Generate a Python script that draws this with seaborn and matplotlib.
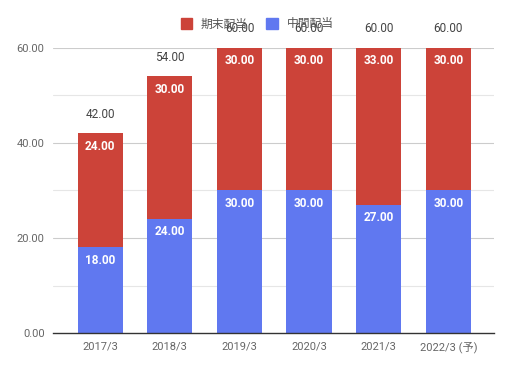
import seaborn as sns
import pandas as pd
import matplotlib.pyplot as plt
from matplotlib.patches import Patch

# data
years = ["2017/3", "2018/3", "2019/3", "2020/3", "2021/3", "2022/3 (予)"]
interim = [18, 24, 30, 30, 27, 30]   # 中間配当
final = [24, 30, 30, 30, 33, 30]     # 期末配当
totals = [42, 54, 60, 60, 60, 60]

red = "#CC4339"
blue = "#6078F0"

sns.set_theme(style="white")
plt.rcParams['font.family'] = ['Roboto', 'Noto Sans CJK JP', 'DejaVu Sans']

df = pd.DataFrame({"year": years, "interim": interim, "final": final, "total": totals})

fig = plt.figure(figsize=(5.09, 3.68), dpi=100)
ax = fig.add_axes([0.104, 0.095, 0.867, 0.775])

# grid
for v in range(10, 61, 10):
    ax.axhline(v, color="#cccccc" if v % 20 == 0 else "#e6e6e6", lw=0.8, zorder=0)

# stacked: total (red) then interim (blue) on top
sns.barplot(data=df, x="year", y="total", color=red, width=0.65, saturation=1,
            linewidth=0, ax=ax, zorder=2)
sns.barplot(data=df, x="year", y="interim", color=blue, width=0.65, saturation=1,
            linewidth=0, ax=ax, zorder=3)

# labels
for i in range(len(years)):
    ax.text(i, interim[i] - 1.3, f"{interim[i]:.2f}", ha="center", va="top",
            color="white", fontsize=8.5, fontweight="bold", zorder=5)
    ax.text(i, totals[i] - 1.3, f"{final[i]:.2f}", ha="center", va="top",
            color="white", fontsize=8.5, fontweight="bold", zorder=5)
    ax.text(i, totals[i] + 2.6, f"{totals[i]:.2f}", ha="center", va="bottom",
            color="#444444", fontsize=8.5, zorder=5)

ax.set_xlim(-0.68, 5.66)
ax.set_ylim(0, 60)
ax.set_yticks([0, 20, 40, 60])
ax.set_yticklabels([f"{v:.2f}" for v in [0, 20, 40, 60]])
ax.set(xlabel=None, ylabel=None)
ax.tick_params(axis='both', labelsize=8, colors='#666666', length=0, pad=6)
sns.despine(ax=ax, left=True)
ax.spines['bottom'].set_color('#333333')
ax.spines['bottom'].set_linewidth(1)
ax.spines['bottom'].set_zorder(6)

handles = [Patch(color=red, label="期末配当"), Patch(color=blue, label="中間配当")]
leg = fig.legend(handles=handles, loc="center", bbox_to_anchor=(0.505, 0.935), ncol=2,
                 frameon=False, fontsize=8.5, handlelength=1.0, handleheight=1.0,
                 columnspacing=1.6, handletextpad=0.7)
for t in leg.get_texts():
    t.set_color('#555555')

plt.savefig("out.png", dpi=100)
